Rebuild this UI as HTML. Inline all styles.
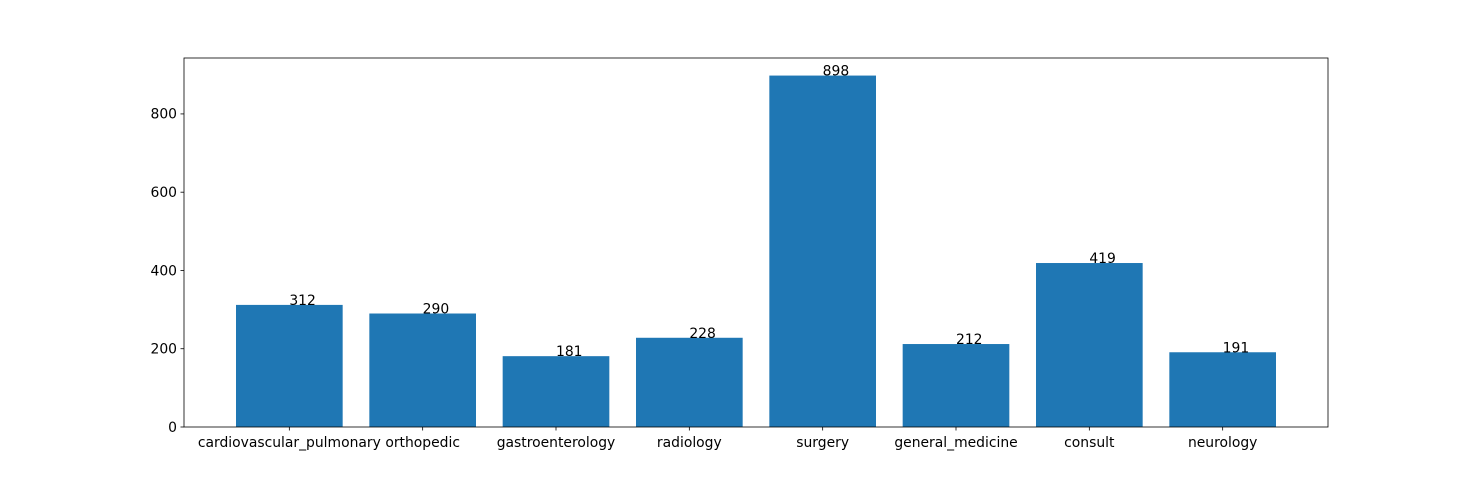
<!DOCTYPE html>
<html><head><meta charset="utf-8"><style>
body{margin:0;background:#fff;}
svg text{font-family:"DejaVu Sans","Liberation Sans",sans-serif;font-size:13.9px;fill:#000;}
</style></head><body>
<svg id="chart" width="1475" height="480"></svg>
<script>
const categories=["cardiovascular_pulmonary","orthopedic","gastroenterology","radiology","surgery","general_medicine","consult","neurology"];
const values=[312,290,181,228,898,212,419,191];
const yTicks=[0,200,400,600,800];
const NS="http://www.w3.org/2000/svg";
const svg=document.getElementById("chart");
const L=184,R=1328,T=58,B=427;
const n=categories.length;
const xlo=-0.4-0.05*(n-1+0.8), xhi=n-1+0.4+0.05*(n-1+0.8);
const ymax=Math.max(...values)*1.05;
const x=v=>L+(v-xlo)/(xhi-xlo)*(R-L);
const y=v=>B-v/ymax*(B-T);
function el(tag,attrs){const e=document.createElementNS(NS,tag);for(const k in attrs)e.setAttribute(k,attrs[k]);svg.appendChild(e);return e;}
values.forEach((v,i)=>{
  const r=el("rect",{x:x(i-0.4),y:y(v),width:x(i+0.4)-x(i-0.4),height:B-y(v),fill:"#1f77b4"});
  
  
  const t=el("text",{x:x(i),y:y(v)});
  t.textContent=v;
  
  
  const tk=el("line",{x1:x(i),x2:x(i),y1:B,y2:B+3.5,stroke:"#000","stroke-width":0.8});
  
  
  const lt=el("text",{x:x(i),y:B+20,"text-anchor":"middle"});
  lt.textContent=categories[i];
  
  
});
yTicks.forEach(v=>{
  const tk=el("line",{x1:L-3.5,x2:L,y1:y(v),y2:y(v),stroke:"#000","stroke-width":0.8});
  
  
  const t=el("text",{x:L-7,y:y(v)+4.8,"text-anchor":"end"});
  t.textContent=v;
  
  
});
const frame=el("rect",{x:L,y:T,width:R-L,height:B-T,fill:"none",stroke:"#000","stroke-width":0.8});


</script>
</body></html>
